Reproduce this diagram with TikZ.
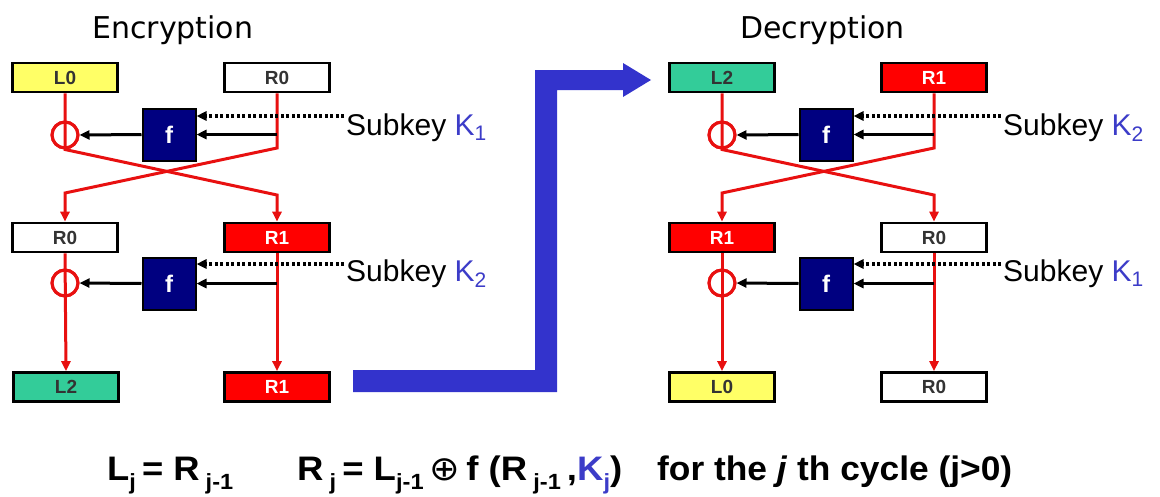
\documentclass[tikz,border=0pt]{standalone}
\usepackage{fontspec}
\setmainfont{Liberation Sans}
\newfontfamily\titlefont{DejaVu Sans}
\newfontfamily\symfont{DejaVu Sans}
\usetikzlibrary{arrows.meta}
\definecolor{boxyellow}{RGB}{255,255,102}
\definecolor{boxgreen}{RGB}{51,204,153}
\definecolor{boxred}{RGB}{255,0,0}
\definecolor{fnavy}{RGB}{0,0,128}
\definecolor{linered}{RGB}{232,16,16}
\definecolor{keyblue}{RGB}{60,60,200}
\definecolor{arrowblue}{RGB}{51,51,204}
\definecolor{labelgray}{RGB}{51,51,51}
\newcommand\sbs[1]{\raisebox{-9pt}{\fontsize{22}{22}\selectfont #1}}
\begin{document}
\begin{tikzpicture}[x=1pt,y=-1pt,
  blk/.style={draw=black,line width=2.6pt,minimum width=105pt,minimum height=29pt,inner sep=0pt,font=\fontsize{19}{19}\selectfont\bfseries},
  whitebox/.style={blk,fill=white,text=labelgray},
  yellowbox/.style={blk,fill=boxyellow,text=labelgray},
  greenbox/.style={blk,fill=boxgreen,text=labelgray},
  redbox/.style={blk,fill=boxred,text=white},
  fbox/.style={draw=black,line width=2pt,fill=fnavy,text=white,minimum width=53pt,minimum height=52pt,inner sep=0pt,font=\fontsize{24}{24}\selectfont\bfseries},
  xor/.style={circle,draw=linered,line width=3pt,minimum size=26pt,inner sep=0pt},
  redline/.style={draw=linered,line width=3pt},
  redarrow/.style={redline,-{Triangle[length=10pt,width=9pt]}},
  blkarrow/.style={draw=black,line width=3pt,-{Triangle[length=10pt,width=9pt]}},
  keyarrow/.style={draw=black,line width=3.5pt,dash pattern=on 3pt off 2.5pt,-{Triangle[length=10pt,width=9pt]}},
  keytext/.style={anchor=base west,inner sep=0pt,font=\fontsize{30}{30}\selectfont},
  titletext/.style={anchor=base west,inner sep=0pt,font=\titlefont\fontsize{30}{30}\selectfont},
  formula/.style={anchor=base west,inner sep=0pt,font=\fontsize{34}{34}\selectfont\bfseries},
]
\useasboundingbox (0,0) rectangle (1160,496);

% titles
\node[titletext] (tenc) at (92,38) {Encryption};
\node[titletext] (tdec) at (740,38) {Decryption};

% ---------------- Encryption ----------------
\node[yellowbox] (eL0) at (65,77.5) {L0};
\node[whitebox] (eR0) at (277,77.5) {R0};
\node[fbox] (ef1) at (169,134.5) {f};
\node[xor] (ex1) at (65,135) {};
\node[whitebox] (eR0b) at (65,237.5) {R0};
\node[redbox] (eR1) at (277,237.5) {R1};
\node[fbox] (ef2) at (169,283.5) {f};
\node[xor] (ex2) at (65,283) {};
\node[greenbox] (eL2) at (66,387) {L2};
\node[redbox] (eR1b) at (277,387) {R1};

\coordinate (ea1) at (277,195);
\coordinate (ea2) at (65,193);
\coordinate (eb1) at (277,148);
\draw[redarrow] (eL0.south) -- (ex1.south) -- (ea1) -- (eR1.north);
\draw[redarrow] (eR0.south) -- (eb1) -- (ea2) -- (eR0b.north);
\draw[redarrow] (eR0b.south) -- (eL2.north);
\draw[redarrow] (eR1.south) -- (eR1b.north);
\node[xor] at (ex1) {};
\node[xor] at (ex2) {};

\draw[blkarrow] (ef1.east -| eR0.south) -- (ef1.east);
\draw[blkarrow] (ef1.west) -- (ex1.east);
\draw[blkarrow] (ef2.east -| eR1.south) -- (ef2.east);
\draw[blkarrow] (ef2.west) -- (ex2.east);

\coordinate (ek1) at (344,116);
\coordinate (ek2) at (344,264);
\draw[keyarrow] (ek1) -- (ek1 -| ef1.east);
\draw[keyarrow] (ek2) -- (ek2 -| ef2.east);
\node[keytext] (esk1) at (346,135) {Subkey \textcolor{keyblue}{K\textsubscript{1}}};
\node[keytext] (esk2) at (346,281) {Subkey \textcolor{keyblue}{K\textsubscript{2}}};

% ---------------- big arrow ----------------
\fill[arrowblue] (353,370) -- (535,370) -- (535,70) -- (623,70) -- (623,63)
  -- (651,80) -- (623,97) -- (623,90) -- (557,90) -- (557,392) -- (353,392) -- cycle;

% ---------------- Decryption ----------------
\node[greenbox] (dL2) at (722,77.5) {L2};
\node[redbox] (dR1) at (934,77.5) {R1};
\node[fbox] (df1) at (826,134.5) {f};
\node[xor] (dx1) at (722,135) {};
\node[redbox] (dR1b) at (722,237.5) {R1};
\node[whitebox] (dR0) at (934,237.5) {R0};
\node[fbox] (df2) at (826,283.5) {f};
\node[xor] (dx2) at (722,283) {};
\node[yellowbox] (dL0) at (722,387) {L0};
\node[whitebox] (dR0b) at (934,387) {R0};

\coordinate (da1) at (934,195);
\coordinate (da2) at (722,193);
\coordinate (db1) at (934,148);
\draw[redarrow] (dL2.south) -- (dx1.south) -- (da1) -- (dR0.north);
\draw[redarrow] (dR1.south) -- (db1) -- (da2) -- (dR1b.north);
\draw[redarrow] (dR1b.south) -- (dL0.north);
\draw[redarrow] (dR0.south) -- (dR0b.north);
\node[xor] at (dx1) {};
\node[xor] at (dx2) {};

\draw[blkarrow] (df1.east -| dR1.south) -- (df1.east);
\draw[blkarrow] (df1.west) -- (dx1.east);
\draw[blkarrow] (df2.east -| dR0.south) -- (df2.east);
\draw[blkarrow] (df2.west) -- (dx2.east);

\coordinate (dk1) at (1001,116);
\coordinate (dk2) at (1001,264);
\draw[keyarrow] (dk1) -- (dk1 -| df1.east);
\draw[keyarrow] (dk2) -- (dk2 -| df2.east);
\node[keytext] (dsk1) at (1003,135) {Subkey \textcolor{keyblue}{K\textsubscript{2}}};
\node[keytext] (dsk2) at (1003,281) {Subkey \textcolor{keyblue}{K\textsubscript{1}}};

% ---------------- formula ----------------
\node[formula] (fa) at (107,480) {\resizebox{126pt}{\height}{L\sbs{j}\,= R\,\sbs{j-1}}};
\node[formula] (fb) at (297,480) {\resizebox{325pt}{\height}{R\,\sbs{j}\,= L\sbs{j-1}\,{\symfont\mdseries ⊕}\,f (R\,\sbs{j-1}\,,\textcolor{keyblue}{K\sbs{j}})}};
\node[formula] (fc) at (657,480) {\resizebox{355pt}{\height}{for the \textit{j} th cycle (j>0)}};
\end{tikzpicture}
\end{document}
